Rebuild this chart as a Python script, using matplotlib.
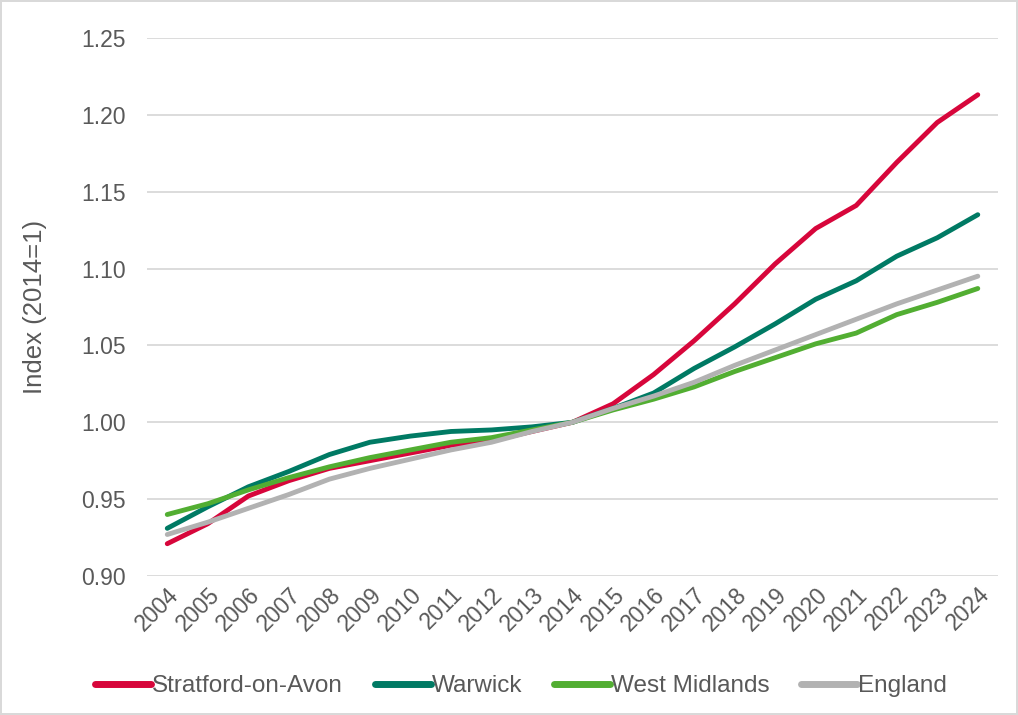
import numpy as np
import matplotlib.pyplot as plt

plt.rcParams['font.family'] = ['Liberation Sans', 'DejaVu Sans']

years = [str(y) for y in range(2004, 2025)]

stratford = [0.921, 0.934, 0.952, 0.962, 0.970, 0.975, 0.980, 0.985, 0.988, 0.994, 1.000,
             1.012, 1.031, 1.053, 1.077, 1.103, 1.126, 1.141, 1.169, 1.195, 1.213]
warwick = [0.931, 0.945, 0.958, 0.968, 0.979, 0.987, 0.991, 0.994, 0.995, 0.997, 1.000,
           1.009, 1.019, 1.035, 1.049, 1.064, 1.080, 1.092, 1.108, 1.120, 1.135]
west_midlands = [0.940, 0.947, 0.956, 0.964, 0.971, 0.977, 0.982, 0.987, 0.990, 0.995, 1.000,
                 1.008, 1.015, 1.023, 1.033, 1.042, 1.051, 1.058, 1.070, 1.078, 1.087]
england = [0.927, 0.935, 0.944, 0.953, 0.963, 0.970, 0.976, 0.982, 0.987, 0.994, 1.000,
           1.009, 1.017, 1.026, 1.037, 1.047, 1.057, 1.067, 1.077, 1.086, 1.095]

series = [
    ("Stratford-on-Avon", stratford, "#d7063b"),
    ("Warwick", warwick, "#007a64"),
    ("West Midlands", west_midlands, "#52ae32"),
    ("England", england, "#b2b2b2"),
]

txt = "#595959"

fig = plt.figure(figsize=(10.18, 7.15), dpi=100)
fig.patch.set_edgecolor("#d9d9d9")
fig.patch.set_linewidth(1.5)
ax = fig.add_axes([0.1444, 0.1944, 0.8360, 0.7526])

x = np.arange(len(years))
for name, vals, col in series:
    ax.plot(x, vals, color=col, lw=3.5, solid_capstyle="round", label=name, zorder=3)

ax.set_xlim(-0.5, len(years) - 0.5)
ax.set_ylim(0.90, 1.25)
ax.set_yticks(np.arange(0.90, 1.2501, 0.05))
ax.set_yticklabels(["%.2f" % v for v in np.arange(0.90, 1.2501, 0.05)])
ax.set_xticks(x)
ax.set_xticklabels(years, rotation=45, ha="right", rotation_mode="anchor")

ax.grid(axis="y", color="#d9d9d9", lw=1.3, zorder=0)
for s in ax.spines.values():
    s.set_visible(False)
ax.tick_params(axis="both", length=0, colors=txt, labelsize=16.5)
ax.tick_params(axis="y", pad=15)
ax.tick_params(axis="x", pad=5)

ax.set_ylabel("Index (2014=1)", color=txt, fontsize=18.5, labelpad=25)

leg = fig.legend(loc="center", bbox_to_anchor=(0.512, 0.04), ncol=4, frameon=False,
                 fontsize=17.5, handlelength=2.3, handletextpad=0.05, columnspacing=1.3)
for t in leg.get_texts():
    t.set_color(txt)
for h in leg.get_lines():
    h.set_linewidth(5)

fig.savefig("out.png", dpi=100)
